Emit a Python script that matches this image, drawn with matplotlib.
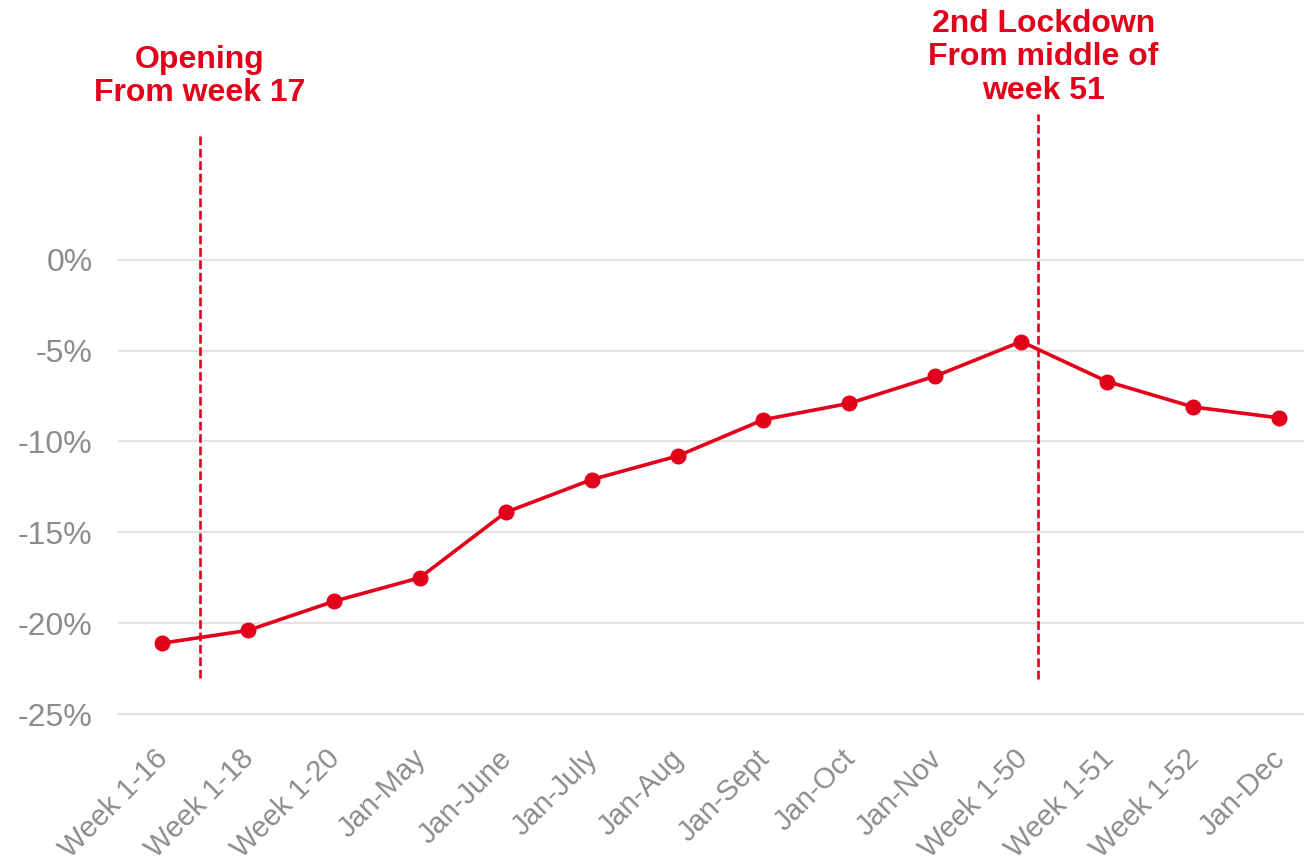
import matplotlib
matplotlib.use("Agg")
import matplotlib.pyplot as plt
from matplotlib.transforms import ScaledTranslation

plt.rcParams['font.family'] = ['Liberation Sans', 'DejaVu Sans']

categories = ["Week 1-16", "Week 1-18", "Week 1-20", "Jan-May", "Jan-June", "Jan-July",
              "Jan-Aug", "Jan-Sept", "Jan-Oct", "Jan-Nov", "Week 1-50", "Week 1-51",
              "Week 1-52", "Jan-Dec"]
values = [-21.1, -20.4, -18.8, -17.5, -13.9, -12.1, -10.8, -8.8, -7.9, -6.4, -4.5, -6.7, -8.1, -8.7]
yticks = [0, -5, -10, -15, -20, -25]
ytick_labels = ["0%", "-5%", "-10%", "-15%", "-20%", "-25%"]

event_x = [0.44, 10.2]
event_top = [6.9, 8.0]
event_bottom = [-23.0, -23.1]
event_labels = ["Opening\nFrom week 17", "2nd Lockdown\nFrom middle of\nweek 51"]
event_label_x = [0.44, 10.26]
event_label_y = [10.08, 11.15]

RED = "#E2001A"
GRAY = "#8C8C8C"

fig = plt.figure(figsize=(13.04, 8.61), dpi=100)
ax = fig.add_axes([119/1304, (861-714)/861, 1203/1304, 714/861])
x = list(range(len(categories)))
ax.plot(x, values, color=RED, lw=2.6, marker='o', markersize=10.5, zorder=3)

ax.set_xlim(-0.5, 13.5)
ax.set_ylim(-25, 14.3)
ax.set_yticks(yticks)
ax.set_yticklabels(ytick_labels)
ax.set_xticks(x)
ax.set_xticklabels(categories, rotation=45, ha='right', va='top', rotation_mode='anchor')
ax.tick_params(axis='y', length=0, pad=19, labelsize=23, labelcolor=GRAY)
ax.tick_params(axis='x', length=0, pad=22, labelsize=21, labelcolor=GRAY)
for lbl in ax.get_xticklabels():
    lbl.set_transform(lbl.get_transform() + ScaledTranslation(-8/100, 0, fig.dpi_scale_trans))
for s in ax.spines.values():
    s.set_visible(False)
for yv in yticks:
    ax.axhline(yv, color="#E3E3E3", lw=1.5, zorder=1, clip_on=False)

for ex, et, eb in zip(event_x, event_top, event_bottom):
    ax.plot([ex, ex], [eb, et], color=RED, lw=1.9, ls=(0, (3.3, 1.4)), zorder=2)
for lx, ly, lab in zip(event_label_x, event_label_y, event_labels):
    ax.text(lx, ly, lab, color=RED, fontsize=23, fontweight='bold', ha='center', va='center',
            linespacing=1.15)

fig.savefig("out.png", dpi=100)
